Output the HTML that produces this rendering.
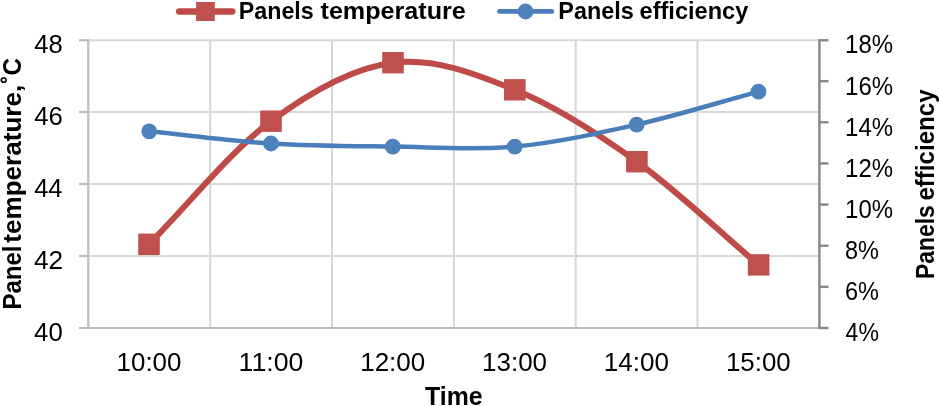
<!DOCTYPE html>
<html><head><meta charset="utf-8"><title>Panels temperature and efficiency</title>
<style>html,body{margin:0;padding:0;background:#fff}svg{display:block}text{font-family:"Liberation Sans",sans-serif;fill:#000}.b{font-weight:bold}</style></head><body>
<svg width="939" height="406" viewBox="0 0 939 406">
<rect width="939" height="406" fill="#fff"/>
<g stroke="#d8d8d8" stroke-width="2.1" fill="none"><line x1="210.18" y1="40" x2="210.18" y2="328"/><line x1="332.02" y1="40" x2="332.02" y2="328"/><line x1="453.85" y1="40" x2="453.85" y2="328"/><line x1="575.68" y1="40" x2="575.68" y2="328"/><line x1="697.52" y1="40" x2="697.52" y2="328"/><line x1="88.00" y1="40.3" x2="819" y2="40.3"/><line x1="88.00" y1="112.0" x2="819" y2="112.0"/><line x1="88.00" y1="184.0" x2="819" y2="184.0"/><line x1="88.00" y1="256.0" x2="819" y2="256.0"/></g>
<g stroke="#bdbdbd" stroke-width="2.2" fill="none"><line x1="88.25" y1="39.3" x2="88.25" y2="329.2"/><line x1="79" y1="328" x2="819" y2="328"/><line x1="79" y1="40.3" x2="88.25" y2="40.3"/><line x1="79" y1="112.0" x2="88.25" y2="112.0"/><line x1="79" y1="184.0" x2="88.25" y2="184.0"/><line x1="79" y1="256.0" x2="88.25" y2="256.0"/></g>
<g stroke="#878787" stroke-width="2.4" fill="none"><line x1="819.4" y1="39.1" x2="819.4" y2="328.8"/><line x1="819.4" y1="40.30" x2="828.5" y2="40.30"/><line x1="819.4" y1="81.14" x2="828.5" y2="81.14"/><line x1="819.4" y1="122.29" x2="828.5" y2="122.29"/><line x1="819.4" y1="163.43" x2="828.5" y2="163.43"/><line x1="819.4" y1="204.57" x2="828.5" y2="204.57"/><line x1="819.4" y1="245.71" x2="828.5" y2="245.71"/><line x1="819.4" y1="286.86" x2="828.5" y2="286.86"/><line x1="819.4" y1="328.00" x2="828.5" y2="328.00"/></g>
<path d="M149.00 244.30 C189.67 203.27 230.33 151.47 271.00 121.20 C311.67 90.93 352.37 67.93 393.00 62.70 C433.63 57.47 474.15 73.30 514.80 89.80 C555.45 106.30 596.27 132.52 636.90 161.70 C677.53 190.88 718.03 230.50 758.60 264.90" fill="none" stroke="#be4b48" stroke-width="6" stroke-linecap="round" stroke-linejoin="round"/>
<g fill="#c0504d"><rect x="138.2" y="233.6" width="21.6" height="21.4"/><rect x="260.2" y="110.5" width="21.6" height="21.4"/><rect x="382.2" y="52.0" width="21.6" height="21.4"/><rect x="504.0" y="79.1" width="21.6" height="21.4"/><rect x="626.1" y="151.0" width="21.6" height="21.4"/><rect x="747.8" y="254.2" width="21.6" height="21.4"/></g>
<path d="M149.20 131.30 C189.80 135.37 230.40 140.95 271.00 143.50 C311.60 146.05 352.18 146.08 392.80 146.60 C433.42 147.12 474.05 150.27 514.70 146.60 C555.35 142.93 596.07 133.77 636.70 124.60 C677.33 115.43 717.90 102.60 758.50 91.60" fill="none" stroke="#4a7ebb" stroke-width="4.5" stroke-linecap="round" stroke-linejoin="round"/>
<g fill="#4f81bd"><circle cx="149.2" cy="131.3" r="7.9"/><circle cx="271.0" cy="143.5" r="7.9"/><circle cx="392.8" cy="146.6" r="7.9"/><circle cx="514.7" cy="146.6" r="7.9"/><circle cx="636.7" cy="124.6" r="7.9"/><circle cx="758.5" cy="91.6" r="7.9"/></g>
<line x1="179.3" y1="11.5" x2="232.2" y2="11.5" stroke="#be4b48" stroke-width="6.6" stroke-linecap="round"/>
<rect x="196.1" y="2" width="18.7" height="19" fill="#c0504d"/>
<line x1="499.5" y1="11.4" x2="551.8" y2="11.4" stroke="#4a7ebb" stroke-width="4.8" stroke-linecap="round"/>
<circle cx="525.5" cy="11.5" r="7.9" fill="#4f81bd"/>
<text y="18.80" font-size="24.3" class="b"><tspan x="238.75" textLength="74.96" lengthAdjust="spacingAndGlyphs">Panels</tspan> <tspan x="320.52" textLength="145.34" lengthAdjust="spacingAndGlyphs">temperature</tspan></text>
<text y="18.80" font-size="24.3" class="b"><tspan x="558.31" textLength="75.40" lengthAdjust="spacingAndGlyphs">Panels</tspan> <tspan x="639.54" textLength="108.81" lengthAdjust="spacingAndGlyphs">efficiency</tspan></text>
<text x="34.30" y="52.70" font-size="25.3" textLength="28.48" lengthAdjust="spacingAndGlyphs">48</text>
<text x="34.29" y="124.70" font-size="25.3" textLength="28.57" lengthAdjust="spacingAndGlyphs">46</text>
<text x="34.19" y="196.70" font-size="25.3" textLength="28.31" lengthAdjust="spacingAndGlyphs">44</text>
<text x="33.94" y="268.70" font-size="25.3" textLength="29.22" lengthAdjust="spacingAndGlyphs">42</text>
<text x="34.13" y="340.70" font-size="25.3" textLength="28.63" lengthAdjust="spacingAndGlyphs">40</text>
<text x="845.09" y="52.80" font-size="25.3" textLength="47.99" lengthAdjust="spacingAndGlyphs">18%</text>
<text x="845.09" y="94.54" font-size="25.3" textLength="47.99" lengthAdjust="spacingAndGlyphs">16%</text>
<text x="845.09" y="135.69" font-size="25.3" textLength="47.99" lengthAdjust="spacingAndGlyphs">14%</text>
<text x="845.09" y="176.83" font-size="25.3" textLength="47.99" lengthAdjust="spacingAndGlyphs">12%</text>
<text x="845.09" y="217.97" font-size="25.3" textLength="47.99" lengthAdjust="spacingAndGlyphs">10%</text>
<text x="845.01" y="259.11" font-size="25.3" textLength="33.95" lengthAdjust="spacingAndGlyphs">8%</text>
<text x="845.05" y="300.26" font-size="25.3" textLength="33.94" lengthAdjust="spacingAndGlyphs">6%</text>
<text x="845.60" y="341.40" font-size="25.3" textLength="33.24" lengthAdjust="spacingAndGlyphs">4%</text>
<text x="116.60" y="370.80" font-size="25.3" textLength="64.83" lengthAdjust="spacingAndGlyphs">10:00</text>
<text x="238.52" y="370.80" font-size="25.3" textLength="64.81" lengthAdjust="spacingAndGlyphs">11:00</text>
<text x="360.20" y="370.80" font-size="25.3" textLength="65.02" lengthAdjust="spacingAndGlyphs">12:00</text>
<text x="482.09" y="370.80" font-size="25.3" textLength="64.91" lengthAdjust="spacingAndGlyphs">13:00</text>
<text x="603.88" y="370.80" font-size="25.3" textLength="65.08" lengthAdjust="spacingAndGlyphs">14:00</text>
<text x="725.94" y="370.80" font-size="25.3" textLength="64.74" lengthAdjust="spacingAndGlyphs">15:00</text>
<text x="425.04" y="404.90" font-size="25.1" class="b" textLength="57.62" lengthAdjust="spacingAndGlyphs">Time</text>
<text transform="translate(20.80 0) rotate(-90)" y="0" font-size="25.1" class="b"><tspan x="-309.59" textLength="63.98" lengthAdjust="spacingAndGlyphs">Panel</tspan> <tspan x="-242.71" textLength="157.95" lengthAdjust="spacingAndGlyphs">temperature,</tspan> <tspan x="-83.54" textLength="25.59" lengthAdjust="spacingAndGlyphs">˚C</tspan></text>
<text transform="translate(933.60 0) rotate(-90)" y="0" font-size="25.1" class="b"><tspan x="-278.97" textLength="73.79" lengthAdjust="spacingAndGlyphs">Panels</tspan> <tspan x="-200.57" textLength="111.11" lengthAdjust="spacingAndGlyphs">efficiency</tspan></text>
</svg></body></html>
